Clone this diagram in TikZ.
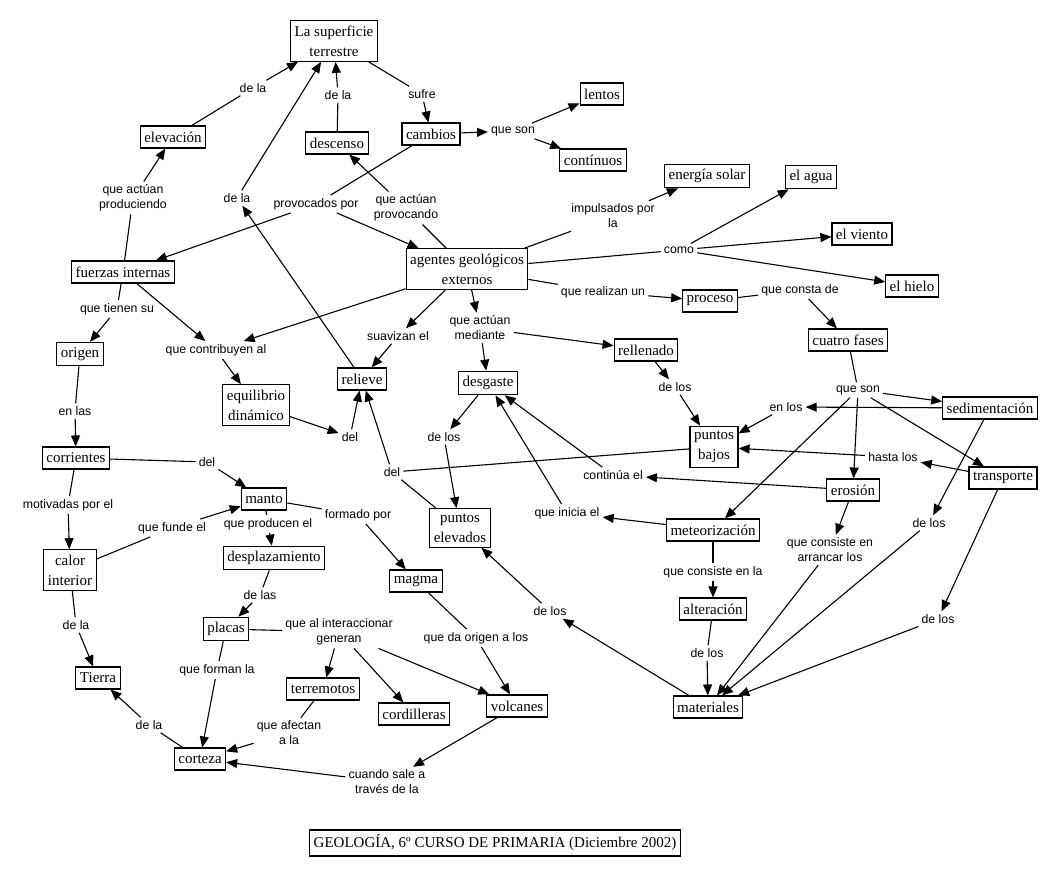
\documentclass[tikz,border=0pt]{standalone}
\usepackage{fontspec}
\setmainfont{Liberation Serif}
\newfontfamily\linkfont{Liberation Sans}
\usetikzlibrary{arrows.meta}

\begin{document}
\begin{tikzpicture}[x=1pt, y=-1pt,
  concept/.style={draw, line width=1.1pt, align=center, inner xsep=4pt, inner ysep=5pt, minimum height=22pt, font=\fontsize{15}{20}\selectfont},
  phrase/.style={align=center, inner sep=3pt, font=\linkfont\fontsize{12.3}{15}\selectfont},
  plain/.style={line width=1.1pt},
  pointed/.style={line width=1.1pt, -{Triangle[length=11pt,width=9pt]}}]
  \useasboundingbox (0,0) rectangle (1062,877);

  % concepts
  \node[concept] (sup) at (334,41) {La superficie\\terrestre};
  \node[concept] (elev) at (173,137) {elevación};
  \node[concept] (desc) at (337,143) {descenso};
  \node[concept] (camb) at (431,134) {cambios};
  \node[concept] (lent) at (602,94) {lentos};
  \node[concept] (cont) at (593,160) {contínuos};
  \node[concept] (ener) at (707,176) {energía solar};
  \node[concept] (agua) at (811,177) {el agua};
  \node[concept] (vien) at (862,234) {el viento};
  \node[concept] (hiel) at (912,286) {el hielo};
  \node[concept] (agen) at (467,269) {agentes geológicos\\externos};
  \node[concept] (fuer) at (123,272) {fuerzas internas};
  \node[concept] (proc) at (710,301) {proceso};
  \node[concept] (cuat) at (848,340) {cuatro fases};
  \node[concept] (orig) at (80,354) {origen};
  \node[concept] (equi) at (256,405) {equilibrio\\dinámico};
  \node[concept] (reli) at (362,379) {relieve};
  \node[concept] (desg) at (488,383) {desgaste};
  \node[concept] (rell) at (646,350) {rellenado};
  \node[concept] (pbaj) at (714,447) {puntos\\bajos};
  \node[concept] (sedi) at (990,408) {sedimentación};
  \node[concept] (corr) at (76,458) {corrientes};
  \node[concept] (mant) at (264,499) {manto};
  \node[concept] (eros) at (853,490) {erosión};
  \node[concept] (tran) at (1003,478) {transporte};
  \node[concept] (pele) at (460,528) {puntos\\elevados};
  \node[concept] (mete) at (713,530) {meteorización};
  \node[concept] (calo) at (70,570) {calor\\interior};
  \node[concept] (desp) at (274,558) {desplazamiento};
  \node[concept] (magm) at (416,581) {magma};
  \node[concept] (plac) at (226,629) {placas};
  \node[concept] (alte) at (713,609) {alteración};
  \node[concept] (tier) at (98,678) {Tierra};
  \node[concept] (terr) at (323,689) {terremotos};
  \node[concept] (cord) at (414,714) {cordilleras};
  \node[concept] (volc) at (517,706) {volcanes};
  \node[concept] (mate) at (708,707) {materiales};
  \node[concept] (cort) at (200,759) {corteza};
  \node[concept] (title) at (495,843) {GEOLOGÍA, 6º CURSO DE PRIMARIA (Diciembre 2002)};

  % linking phrases
  \node[phrase] (l1) at (253,88) {de la};
  \node[phrase] (l2) at (338,95) {de la};
  \node[phrase] (l3) at (422,94) {sufre};
  \node[phrase] (l4) at (513,131) {que son};
  \node[phrase] (l5) at (133,198) {que actúan\\produciendo};
  \node[phrase] (l6) at (237,198) {de la};
  \node[phrase] (l7) at (316,204) {provocados por};
  \node[phrase] (l8) at (406,208) {que actúan\\provocando};
  \node[phrase] (l9) at (613,216) {impulsados por\\la};
  \node[phrase] (l10) at (679,250) {como};
  \node[phrase] (l11) at (603,292) {que realizan un};
  \node[phrase] (l12) at (800,290) {que consta de};
  \node[phrase] (l13) at (117,309) {que tienen su};
  \node[phrase] (l14) at (216,350) {que contribuyen al};
  \node[phrase] (l15) at (398,336) {suavizan el};
  \node[phrase] (l16) at (480,328) {que actúan\\mediante};
  \node[phrase] (l17) at (675,387) {de los};
  \node[phrase] (l18) at (858,390) {que son};
  \node[phrase] (l19) at (786,407) {en los};
  \node[phrase] (l20) at (893,457) {hasta los};
  \node[phrase] (l21) at (613,475) {continúa el};
  \node[phrase] (l22) at (567,513) {que inicia el};
  \node[phrase] (l23) at (830,550) {que consiste en\\arrancar los};
  \node[phrase] (l24) at (929,523) {de los};
  \node[phrase] (l25) at (75,411) {en las};
  \node[phrase] (l26) at (350,437) {del};
  \node[phrase] (l27) at (444,437) {de los};
  \node[phrase] (l28) at (392,472) {del};
  \node[phrase] (l29) at (207,462) {del};
  \node[phrase] (l30) at (68,505) {motivadas por el};
  \node[phrase] (l31) at (172,528) {que funde el};
  \node[phrase] (l32) at (268,524) {que producen el};
  \node[phrase] (l33) at (358,515) {formado por};
  \node[phrase] (l34) at (260,595) {de las};
  \node[phrase] (l35) at (339,632) {que al interaccionar\\generan};
  \node[phrase] (l36) at (217,670) {que forman la};
  \node[phrase] (l37) at (76,625) {de la};
  \node[phrase] (l38) at (149,725) {de la};
  \node[phrase] (l39) at (289,733) {que afectan\\a la};
  \node[phrase] (l40) at (476,638) {que da origen a los};
  \node[phrase] (l41) at (387,782) {cuando sale a\\través de la};
  \node[phrase] (l42) at (550,611) {de los};
  \node[phrase] (l43) at (713,572) {que consiste en la};
  \node[phrase] (l44) at (707,653) {de los};
  \node[phrase] (l45) at (938,619) {de los};

  % concept -- phrase
  \foreach \a/\b in {elev/l1, desc/l2, sup/l3, fuer/l5, camb/l7, agen/l8, agen/l9, agen/l10,
      agen/l11, proc/l12, fuer/l13, cuat/l18, orig/l25, pele/l28, pbaj/l28, corr/l29, corr/l30,
      calo/l31, mant/l32, mant/l33, desp/l34, plac/l35, plac/l36, calo/l37, cort/l38, terr/l39,
      magm/l40, mete/l43, alte/l44}
    {\draw[plain] (\a) -- (\b);}

  % concept -> phrase
  \foreach \a/\b in {camb/l4, reli/l6, agen/l14, fuer/l14, agen/l15, agen/l16, rell/l17,
      sedi/l19, tran/l20, eros/l21, mete/l22, eros/l23, sedi/l24, equi/l26, desg/l27,
      volc/l41, mate/l42, tran/l45}
    {\draw[pointed] (\a) -- (\b);}

  % phrase -> concept
  \foreach \a/\b in {l1/sup, l2/sup, l6/sup, l3/camb, l4/lent, l4/cont, l5/elev, l7/fuer,
      l7/agen, l8/desc, l9/ener, l10/agua, l10/vien, l10/hiel, l11/proc, l12/cuat, l13/orig,
      l14/equi, l15/reli, l16/desg, l16/rell, l17/pbaj, l18/sedi, l18/eros, l18/tran, l18/mete,
      l19/pbaj, l20/pbaj, l21/desg, l22/desg, l23/mate, l24/mate, l45/mate, l25/corr, l26/reli,
      l27/pele, l28/reli, l29/mant, l30/calo, l31/mant, l32/desp, l33/magm, l34/plac, l35/terr,
      l35/cord, l35/volc, l36/cort, l37/tier, l38/tier, l39/cort, l40/volc, l41/cort, l42/pele,
      l43/alte, l44/mate}
    {\draw[pointed] (\a) -- (\b);}
\end{tikzpicture}
\end{document}
